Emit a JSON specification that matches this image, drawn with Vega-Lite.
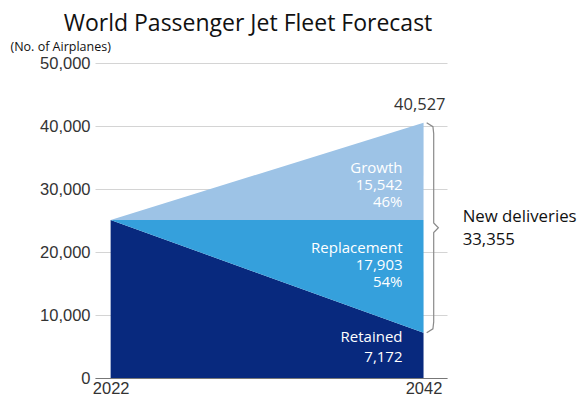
{
  "$schema": "https://vega.github.io/schema/vega-lite/v6.json",
  "width": 352,
  "height": 315,
  "autosize": {"type": "none"},
  "padding": {"left": 95, "top": 63, "right": 134, "bottom": 19},
  "background": "white",
  "config": {"view": {"stroke": null}, "font": "Liberation Sans"},
  "title": {"text": "World Passenger Jet Fleet Forecast", "font": "Open Sans", "fontSize": 23, "fontWeight": "normal", "color": "#111", "anchor": "middle", "dx": -23, "offset": 4},
  "layer": [
    {
      "data": {"values": [
        {"year": 2022, "series": "Retained", "fleet": 25075, "ord": 1},
        {"year": 2042, "series": "Retained", "fleet": 7172, "ord": 1},
        {"year": 2022, "series": "Replacement", "fleet": 0, "ord": 2},
        {"year": 2042, "series": "Replacement", "fleet": 17903, "ord": 2},
        {"year": 2022, "series": "Growth", "fleet": 0, "ord": 3},
        {"year": 2042, "series": "Growth", "fleet": 15452, "ord": 3}
      ]},
      "mark": {"type": "area", "opacity": 1},
      "encoding": {
        "x": {"field": "year", "type": "quantitative", "scale": {"domain": [2021, 2043.5], "nice": false, "zero": false},
          "axis": {"values": [2022, 2042], "format": "d", "title": null, "grid": false, "ticks": false, "labelFontSize": 16.5, "labelColor": "#333", "labelPadding": 2, "domainColor": "#777", "domainWidth": 1.2}},
        "y": {"field": "fleet", "type": "quantitative", "stack": "zero", "scale": {"domain": [0, 50000], "nice": false},
          "axis": {"values": [0, 10000, 20000, 30000, 40000, 50000], "format": ",d", "title": "(No. of Airplanes)", "titleAngle": 0, "titleAlign": "left", "titleBaseline": "middle", "titleX": -85, "titleY": -17, "titleFontSize": 12.5, "titleFontWeight": "normal", "titleColor": "#111", "titleFont": "Open Sans", "grid": true, "gridColor": "#d4d4d4", "ticks": false, "domain": false, "labelFontSize": 16.5, "labelColor": "#333", "labelPadding": 5}},
        "color": {"field": "series", "type": "nominal", "scale": {"domain": ["Retained", "Replacement", "Growth"], "range": ["#08297e", "#35a0dc", "#9dc3e6"]}, "legend": null},
        "order": {"field": "ord", "type": "quantitative"}
      }
    },
    {
      "data": {"values": [{}]},
      "mark": {"type": "text", "align": "right", "baseline": "middle", "color": "white", "font": "Open Sans", "fontSize": 15, "dx": -21, "lineHeight": 17},
      "encoding": {"x": {"datum": 2042, "type": "quantitative"}, "y": {"datum": 33400, "type": "quantitative"}, "text": {"value": ["Growth", "15,542", "46%"]}}
    },
    {
      "data": {"values": [{}]},
      "mark": {"type": "text", "align": "right", "baseline": "middle", "color": "white", "font": "Open Sans", "fontSize": 15, "dx": -21, "lineHeight": 17},
      "encoding": {"x": {"datum": 2042, "type": "quantitative"}, "y": {"datum": 20700, "type": "quantitative"}, "text": {"value": ["Replacement", "17,903", "54%"]}}
    },
    {
      "data": {"values": [{}]},
      "mark": {"type": "text", "align": "right", "baseline": "middle", "color": "white", "font": "Open Sans", "fontSize": 15, "dx": -21, "lineHeight": 20},
      "encoding": {"x": {"datum": 2042, "type": "quantitative"}, "y": {"datum": 6500, "type": "quantitative"}, "text": {"value": ["Retained", "7,172"]}}
    },
    {
      "data": {"values": [{}]},
      "mark": {"type": "text", "align": "right", "baseline": "middle", "color": "#333", "font": "Open Sans", "fontSize": 16.5, "dx": 22},
      "encoding": {"x": {"datum": 2042, "type": "quantitative"}, "y": {"datum": 43300, "type": "quantitative"}, "text": {"value": "40,527"}}
    },
    {
      "data": {"values": [{}]},
      "mark": {"type": "text", "align": "left", "baseline": "middle", "color": "#111", "font": "Open Sans", "fontSize": 16.8, "lineHeight": 23},
      "encoding": {"x": {"datum": 2044.5, "type": "quantitative"}, "y": {"datum": 25550, "type": "quantitative"}, "text": {"value": ["New deliveries", "33,355"]}}
    },
    {
      "data": {"values": [
        {"bx": 2042.2, "by": 40527, "k": 1},
        {"bx": 2042.6, "by": 39900, "k": 2},
        {"bx": 2042.65, "by": 38800, "k": 3},
        {"bx": 2042.65, "by": 24600, "k": 4},
        {"bx": 2042.95, "by": 23850, "k": 5},
        {"bx": 2042.65, "by": 23100, "k": 6},
        {"bx": 2042.65, "by": 8900, "k": 7},
        {"bx": 2042.6, "by": 7800, "k": 8},
        {"bx": 2042.2, "by": 7172, "k": 9}
      ]},
      "mark": {"type": "line", "color": "#8a8a8a", "strokeWidth": 1.2, "interpolate": "linear"},
      "encoding": {
        "x": {"field": "bx", "type": "quantitative"},
        "y": {"field": "by", "type": "quantitative"},
        "order": {"field": "k", "type": "quantitative"}
      }
    }
  ]
}
